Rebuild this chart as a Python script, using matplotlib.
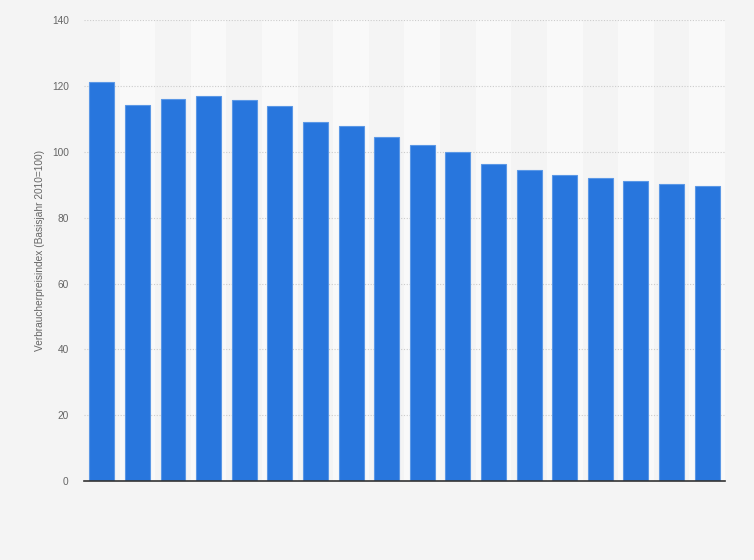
import numpy as np
import matplotlib.pyplot as plt

plt.rcParams['font.family'] = ['Liberation Sans', 'DejaVu Sans']

# Verbraucherpreisindex, 18 Jahre (keine x-Beschriftung im Original)
categories = [str(i) for i in range(18)]
values = [121.1, 114.2, 115.9, 116.9, 115.6, 113.8, 109.2, 108.0, 104.4,
          102.0, 99.8, 96.2, 94.4, 93.1, 92.0, 91.0, 90.1, 89.5]
yticks = [0, 20, 40, 60, 80, 100, 120, 140]

fig = plt.figure(figsize=(7.54, 5.6), dpi=100)
fig.patch.set_facecolor('#f4f4f4')
ax = fig.add_axes([0.1114, 0.141, 0.8501, 0.823])
ax.set_facecolor('#f4f4f4')

x = np.arange(len(values))
# alternating column bands
for i in x:
    if i % 2 == 1:
        ax.axvspan(i - 0.5, i + 0.5, color='#f9f9f9', zorder=0, lw=0)

ax.bar(x, values, width=0.7, color='#2876dd', edgecolor='#5b98e6', linewidth=0.8, zorder=3)

ax.set_xlim(-0.5, len(values) - 0.5)
ax.set_ylim(0, 140)
ax.set_yticks(yticks)
ax.set_yticklabels([str(t) for t in yticks], fontsize=7.3, color='#666666')
ax.set_xticks([])
ax.grid(axis='y', color='#cccccc', linestyle=(0, (1, 1.5)), linewidth=0.8, zorder=1)
ax.tick_params(axis='y', length=0, pad=11)

for side in ['top', 'right', 'left']:
    ax.spines[side].set_visible(False)
ax.spines['bottom'].set_color('#333333')
ax.spines['bottom'].set_linewidth(1.2)
ax.spines['bottom'].set_zorder(4)

ax.set_ylabel('Verbraucherpreisindex (Basisjahr 2010=100)', fontsize=7.3, color='#666666', labelpad=5)

plt.savefig('out.png', dpi=100, facecolor=fig.get_facecolor())
